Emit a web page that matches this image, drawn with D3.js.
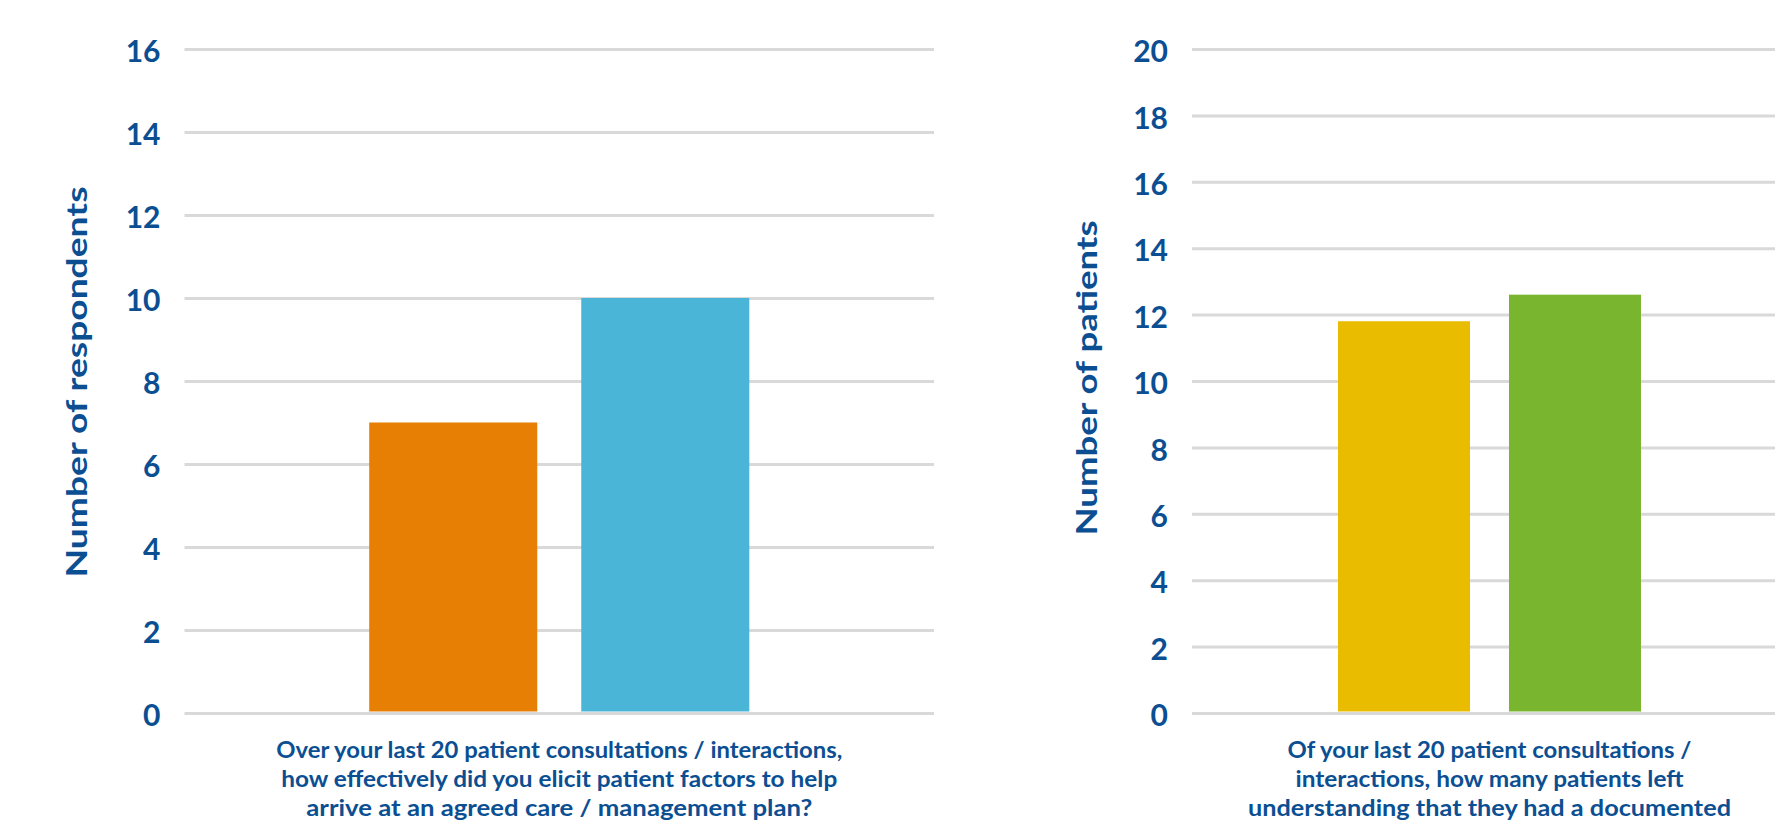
<!DOCTYPE html>
<html>
<head>
<meta charset="utf-8">
<script src="https://cdn.jsdelivr.net/npm/d3@7"></script>
<style>
  body { margin: 0; background: #fff; }
  svg { display: block; font-family: "Lato", "Open Sans", sans-serif; font-weight: 700; }
</style>
</head>
<body>
<svg id="chart" width="1775" height="825"></svg>
<script>
// left chart: respondents
const leftCategories = ["Series 1", "Series 2"];
const leftValues = [7, 10];
const leftTicks = [0, 2, 4, 6, 8, 10, 12, 14, 16];
const leftColors = ["#e77f04", "#4bb5d7"];
const leftTitle = "Number of respondents";
const leftQuestion = [
  "Over your last 20 patient consultations / interactions,",
  "how effectively did you elicit patient factors to help",
  "arrive at an agreed care / management plan?"
];

// right chart: patients
const rightCategories = ["Series 1", "Series 2"];
const rightValues = [11.8, 12.6];
const rightTicks = [0, 2, 4, 6, 8, 10, 12, 14, 16, 18, 20];
const rightColors = ["#e9bc00", "#79b52e"];
const rightTitle = "Number of patients";
const rightQuestion = [
  "Of your last 20 patient consultations /",
  "interactions, how many patients left",
  "understanding that they had a documented"
];

const textColor = "#0b4f92";
const gridColor = "#d9d9d9";

const svg = d3.select("#chart");

function barChart(cfg) {
  const top = 49, bottom = 713;

  const x = d3.scaleBand()
    .domain(cfg.categories)
    .range([cfg.left, cfg.left + cfg.width])
    .paddingInner(cfg.padInner)
    .paddingOuter(cfg.padOuter);

  const y = d3.scaleLinear()
    .domain([0, d3.max(cfg.ticks)])
    .range([bottom, top]);

  const g = svg.append("g");

  // gridlines + tick labels from the axis
  const axis = g.append("g")
    .attr("transform", `translate(${cfg.left},0)`)
    .call(d3.axisLeft(y)
      .tickValues(cfg.ticks)
      .tickSize(-cfg.width)
      .tickPadding(24));

  axis.select(".domain").remove();
  axis.selectAll("line")
    .attr("stroke", gridColor)
    .attr("stroke-width", 3);
  axis.selectAll("text")
    .attr("fill", textColor)
    .attr("dy", "0.42em")
    .style("font-size", "30px")
    .style("font-family", "Lato, sans-serif")
    .style("font-weight", 700);

  g.append("g")
    .selectAll("rect")
    .data(cfg.values)
    .enter()
      .append("rect")
      .attr("x", (d, i) => x(cfg.categories[i]))
      .attr("width", x.bandwidth())
      .attr("y", (d) => y(d))
      .attr("height", (d) => y(0) - y(d) - 1.5)
      .attr("fill", (d, i) => cfg.colors[i]);

  // y axis title
  g.append("text")
    .attr("transform", `translate(${cfg.titleX},${cfg.titleY}) rotate(-90)`)
    .attr("text-anchor", "middle")
    .attr("fill", textColor)
    .attr("font-size", 29)
    .attr("textLength", cfg.titleLength)
    .attr("lengthAdjust", "spacingAndGlyphs")
    .text(cfg.title);

  // question under the bars
  const cx = cfg.left + cfg.width / 2;
  g.append("g")
    .selectAll("text")
    .data(cfg.question)
    .enter()
      .append("text")
      .attr("x", cx)
      .attr("y", (d, i) => 758 + i * 29)
      .attr("text-anchor", "middle")
      .attr("fill", textColor)
      .attr("font-size", 22)
      .attr("textLength", (d, i) => cfg.lineLengths[i])
      .attr("lengthAdjust", "spacingAndGlyphs")
      .text((d) => d);
}

barChart({
  categories: leftCategories,
  values: leftValues,
  ticks: leftTicks,
  colors: leftColors,
  title: leftTitle,
  question: leftQuestion,
  left: 184.5,
  width: 749.5,
  padInner: 0.2075,
  padOuter: 0.871,
  titleX: 87,
  titleY: 382,
  titleLength: 391,
  lineLengths: [566, 556, 506]
});

barChart({
  categories: rightCategories,
  values: rightValues,
  ticks: rightTicks,
  colors: rightColors,
  title: rightTitle,
  question: rightQuestion,
  left: 1192,
  width: 595,
  padInner: 0.228,
  padOuter: 0.854,
  titleX: 1097,
  titleY: 378,
  titleLength: 315,
  lineLengths: [404, 388, 483]
});
</script>
</body>
</html>
